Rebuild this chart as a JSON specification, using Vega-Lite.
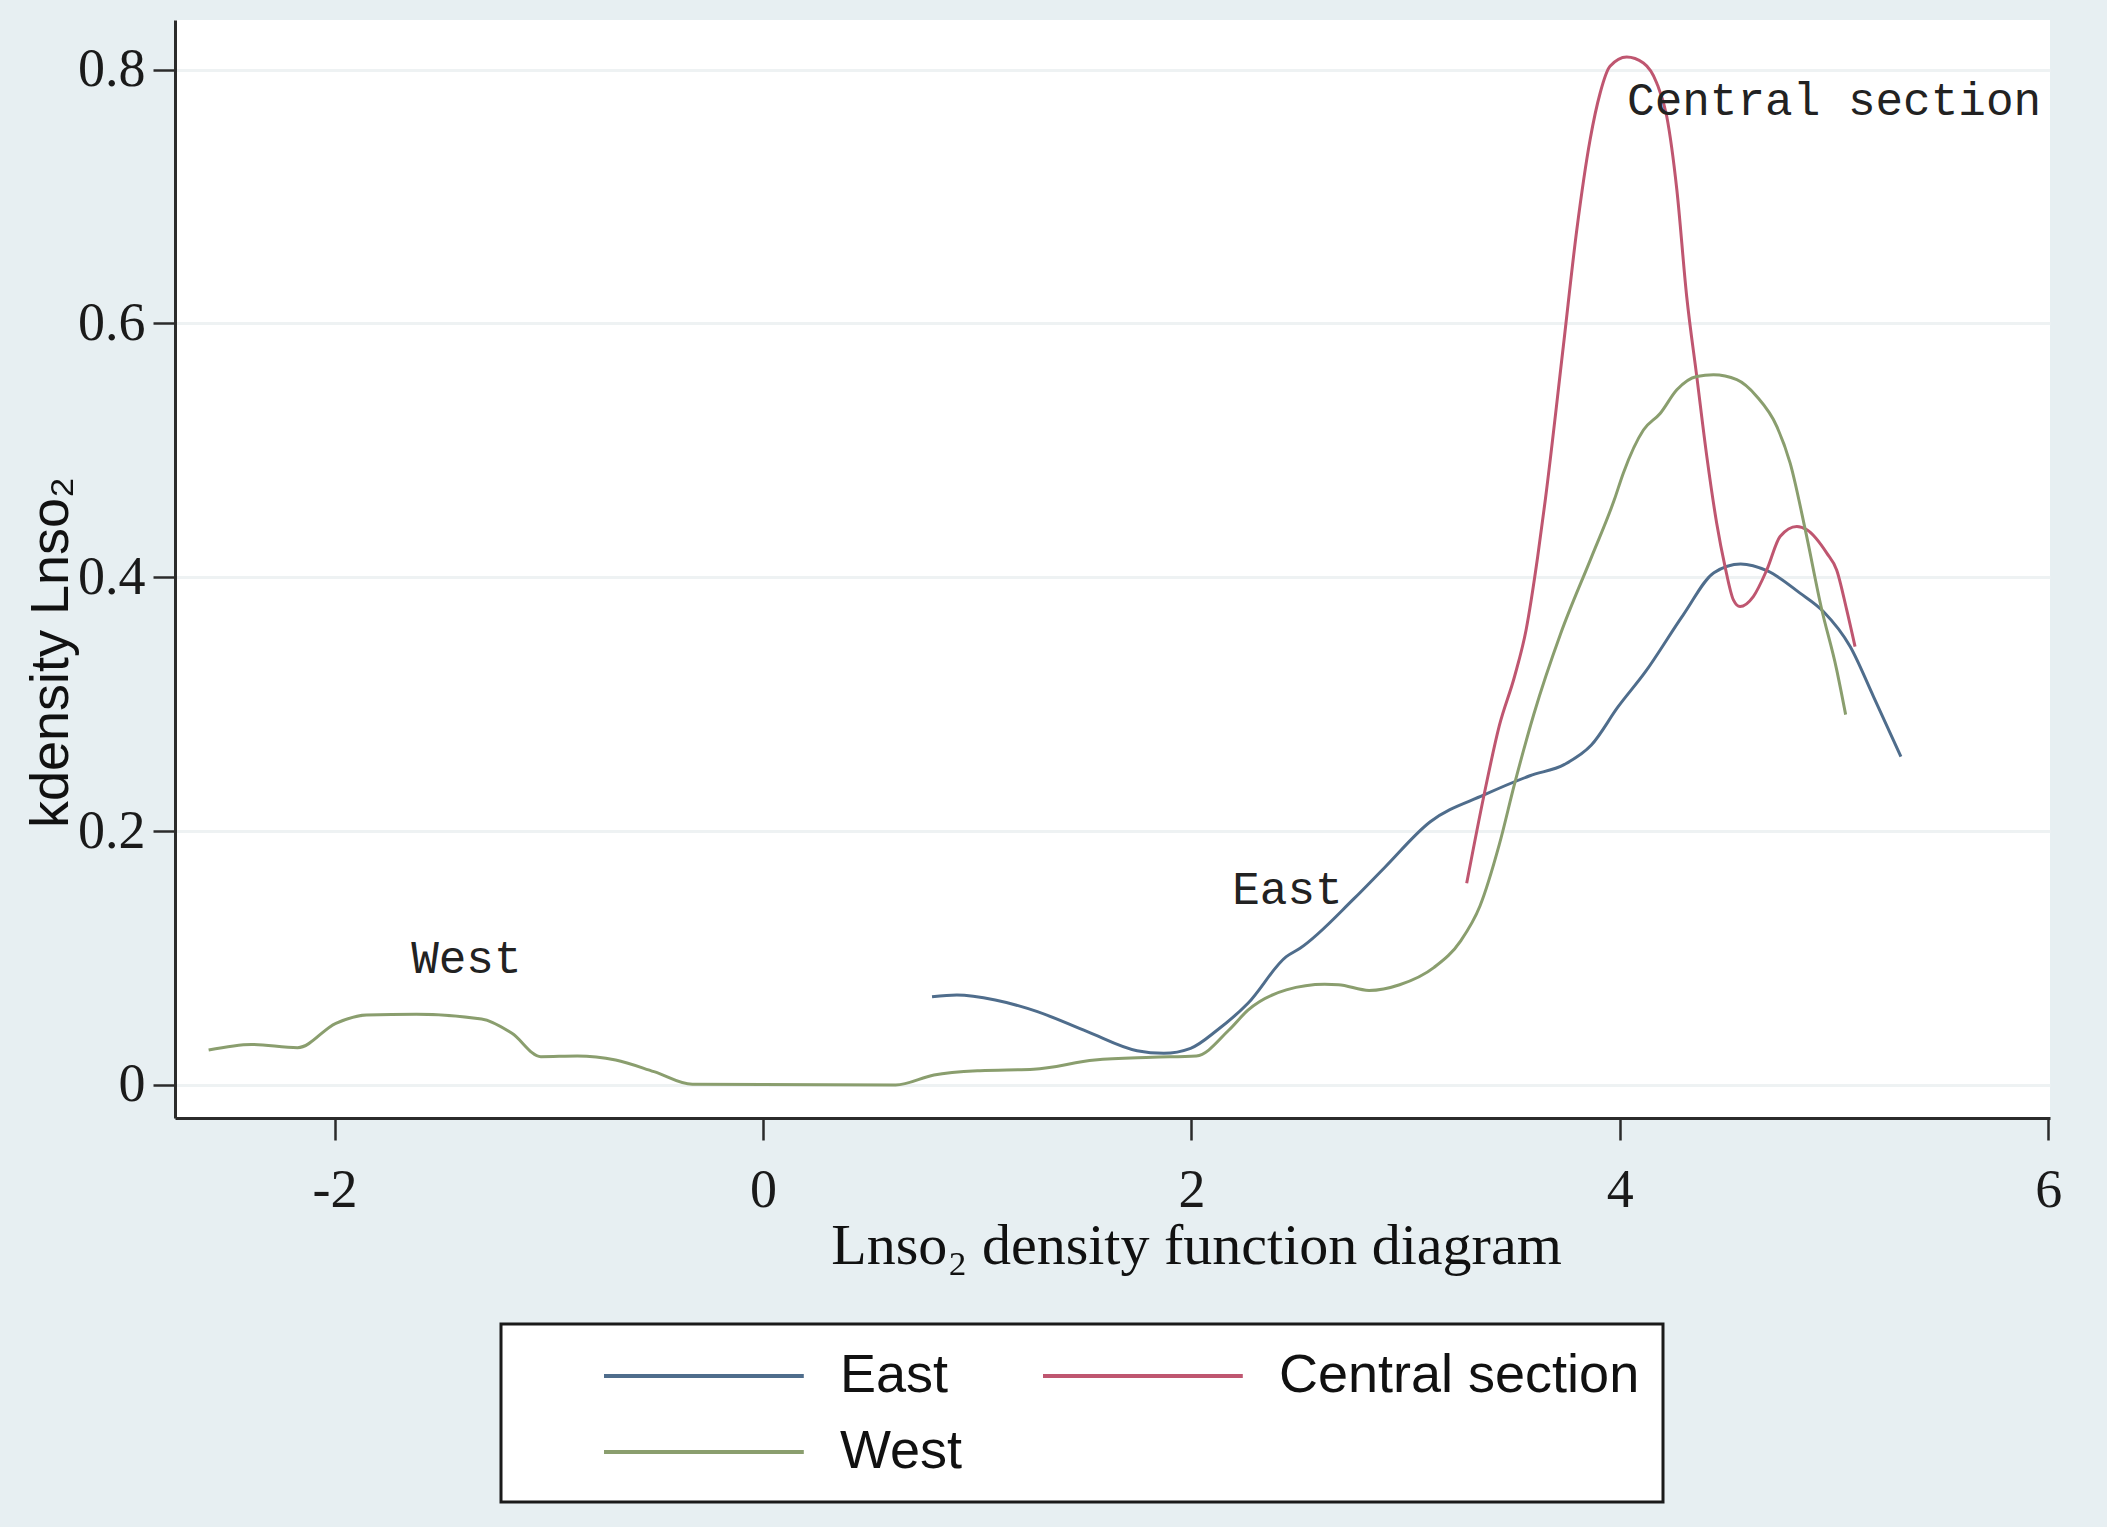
{
  "$schema": "https://vega.github.io/schema/vega-lite/v6.json",
  "autosize": {"type": "none"},
  "width": 1875,
  "height": 1098,
  "padding": {"left": 175, "top": 20, "right": 57, "bottom": 409},
  "background": "#e7eff2",
  "config": {
    "view": {"fill": "white", "stroke": null},
    "axis": {
      "domainColor": "#2b2b2b",
      "domainWidth": 3,
      "tickColor": "#2b2b2b",
      "tickWidth": 2.5,
      "tickSize": 22,
      "labelFont": "Liberation Serif",
      "labelFontSize": 54,
      "labelColor": "#1a1a1a",
      "titleColor": "#111111",
      "titleFontWeight": "normal"
    }
  },
  "datasets": {
    "curves": [
      {"region": "East", "x": 0.789, "y": 0.0696},
      {"region": "East", "x": 0.905, "y": 0.0709},
      {"region": "East", "x": 1.084, "y": 0.067},
      {"region": "East", "x": 1.281, "y": 0.0578},
      {"region": "East", "x": 1.514, "y": 0.042},
      {"region": "East", "x": 1.746, "y": 0.027},
      {"region": "East", "x": 1.871, "y": 0.025},
      {"region": "East", "x": 1.996, "y": 0.0289},
      {"region": "East", "x": 2.121, "y": 0.0433},
      {"region": "East", "x": 2.264, "y": 0.0644},
      {"region": "East", "x": 2.443, "y": 0.1011},
      {"region": "East", "x": 2.507, "y": 0.1077},
      {"region": "East", "x": 2.76, "y": 0.147},
      {"region": "East", "x": 2.9, "y": 0.171},
      {"region": "East", "x": 3.115, "y": 0.2074},
      {"region": "East", "x": 3.366, "y": 0.2285},
      {"region": "East", "x": 3.58, "y": 0.2436},
      {"region": "East", "x": 3.742, "y": 0.2526},
      {"region": "East", "x": 3.867, "y": 0.2678},
      {"region": "East", "x": 3.992, "y": 0.298},
      {"region": "East", "x": 4.117, "y": 0.325},
      {"region": "East", "x": 4.296, "y": 0.3704},
      {"region": "East", "x": 4.439, "y": 0.4036},
      {"region": "East", "x": 4.564, "y": 0.4105},
      {"region": "East", "x": 4.689, "y": 0.405},
      {"region": "East", "x": 4.841, "y": 0.3875},
      {"region": "East", "x": 4.95, "y": 0.373},
      {"region": "East", "x": 5.075, "y": 0.3454},
      {"region": "East", "x": 5.184, "y": 0.306},
      {"region": "East", "x": 5.312, "y": 0.2587},
      {"region": "Central section", "x": 3.285, "y": 0.159},
      {"region": "Central section", "x": 3.366, "y": 0.2285},
      {"region": "Central section", "x": 3.437, "y": 0.2829},
      {"region": "Central section", "x": 3.509, "y": 0.3222},
      {"region": "Central section", "x": 3.562, "y": 0.3583},
      {"region": "Central section", "x": 3.616, "y": 0.4157},
      {"region": "Central section", "x": 3.652, "y": 0.461},
      {"region": "Central section", "x": 3.736, "y": 0.5818},
      {"region": "Central section", "x": 3.799, "y": 0.6738},
      {"region": "Central section", "x": 3.861, "y": 0.7447},
      {"region": "Central section", "x": 3.908, "y": 0.7815},
      {"region": "Central section", "x": 3.954, "y": 0.8025},
      {"region": "Central section", "x": 4.032, "y": 0.8098},
      {"region": "Central section", "x": 4.11, "y": 0.8051},
      {"region": "Central section", "x": 4.172, "y": 0.7894},
      {"region": "Central section", "x": 4.219, "y": 0.763},
      {"region": "Central section", "x": 4.266, "y": 0.7053},
      {"region": "Central section", "x": 4.312, "y": 0.6212},
      {"region": "Central section", "x": 4.359, "y": 0.5582},
      {"region": "Central section", "x": 4.406, "y": 0.495},
      {"region": "Central section", "x": 4.452, "y": 0.4426},
      {"region": "Central section", "x": 4.491, "y": 0.4084},
      {"region": "Central section", "x": 4.53, "y": 0.3822},
      {"region": "Central section", "x": 4.561, "y": 0.3769},
      {"region": "Central section", "x": 4.623, "y": 0.3848},
      {"region": "Central section", "x": 4.686, "y": 0.4058},
      {"region": "Central section", "x": 4.748, "y": 0.4321},
      {"region": "Central section", "x": 4.826, "y": 0.44},
      {"region": "Central section", "x": 4.873, "y": 0.4374},
      {"region": "Central section", "x": 4.966, "y": 0.419},
      {"region": "Central section", "x": 5.012, "y": 0.4058},
      {"region": "Central section", "x": 5.059, "y": 0.3743},
      {"region": "Central section", "x": 5.098, "y": 0.3454},
      {"region": "West", "x": -2.588, "y": 0.0276},
      {"region": "West", "x": -2.388, "y": 0.032},
      {"region": "West", "x": -2.173, "y": 0.0294},
      {"region": "West", "x": -1.994, "y": 0.0486},
      {"region": "West", "x": -1.851, "y": 0.0552},
      {"region": "West", "x": -1.618, "y": 0.0557},
      {"region": "West", "x": -1.314, "y": 0.052},
      {"region": "West", "x": -1.172, "y": 0.0407},
      {"region": "West", "x": -1.037, "y": 0.0223},
      {"region": "West", "x": -0.867, "y": 0.0229},
      {"region": "West", "x": -0.688, "y": 0.0197},
      {"region": "West", "x": -0.509, "y": 0.0105},
      {"region": "West", "x": -0.33, "y": 0.0005},
      {"region": "West", "x": 0.619, "y": 0.0},
      {"region": "West", "x": 0.798, "y": 0.0079},
      {"region": "West", "x": 1.013, "y": 0.0113},
      {"region": "West", "x": 1.263, "y": 0.0124},
      {"region": "West", "x": 1.549, "y": 0.0197},
      {"region": "West", "x": 1.817, "y": 0.0218},
      {"region": "West", "x": 2.023, "y": 0.0229},
      {"region": "West", "x": 2.175, "y": 0.0433},
      {"region": "West", "x": 2.264, "y": 0.059},
      {"region": "West", "x": 2.443, "y": 0.0749},
      {"region": "West", "x": 2.622, "y": 0.0793},
      {"region": "West", "x": 2.686, "y": 0.079},
      {"region": "West", "x": 2.829, "y": 0.0745},
      {"region": "West", "x": 2.972, "y": 0.079},
      {"region": "West", "x": 3.133, "y": 0.0927},
      {"region": "West", "x": 3.258, "y": 0.1138},
      {"region": "West", "x": 3.347, "y": 0.141},
      {"region": "West", "x": 3.437, "y": 0.1893},
      {"region": "West", "x": 3.509, "y": 0.2376},
      {"region": "West", "x": 3.598, "y": 0.2919},
      {"region": "West", "x": 3.723, "y": 0.3553},
      {"region": "West", "x": 3.867, "y": 0.4157},
      {"region": "West", "x": 3.974, "y": 0.461},
      {"region": "West", "x": 4.016, "y": 0.482},
      {"region": "West", "x": 4.11, "y": 0.516},
      {"region": "West", "x": 4.188, "y": 0.529},
      {"region": "West", "x": 4.266, "y": 0.5477},
      {"region": "West", "x": 4.359, "y": 0.5582},
      {"region": "West", "x": 4.437, "y": 0.5595},
      {"region": "West", "x": 4.546, "y": 0.5556},
      {"region": "West", "x": 4.639, "y": 0.5424},
      {"region": "West", "x": 4.733, "y": 0.5187},
      {"region": "West", "x": 4.795, "y": 0.4899},
      {"region": "West", "x": 4.866, "y": 0.4371},
      {"region": "West", "x": 4.94, "y": 0.3764},
      {"region": "West", "x": 5.011, "y": 0.328},
      {"region": "West", "x": 5.054, "y": 0.2918}
    ],
    "labels": [
      {"label": "West", "x": -1.385, "y": 0.099},
      {"label": "East", "x": 2.448, "y": 0.154},
      {"label": "Central section", "x": 5.0, "y": 0.775}
    ]
  },
  "layer": [
    {
      "data": {"name": "curves"},
      "mark": {"type": "line", "strokeWidth": 3, "interpolate": "monotone"},
      "encoding": {
        "x": {
          "field": "x",
          "type": "quantitative",
          "scale": {"domain": [-2.745, 6.008], "nice": false, "zero": false},
          "axis": {
            "values": [-2, 0, 2, 4, 6],
            "labelExpr": "toString(datum.value)",
            "grid": false,
            "labelPadding": 23,
            "title": "Lnso₂ density function diagram",
            "titleFont": "Liberation Serif",
            "titleFontSize": 58,
            "titleX": 1021,
            "titleY": 145,
            "titleAlign": "center",
            "titleBaseline": "alphabetic"
          }
        },
        "y": {
          "field": "y",
          "type": "quantitative",
          "scale": {"domain": [-0.026, 0.839], "nice": false, "zero": false},
          "axis": {
            "values": [0, 0.2, 0.4, 0.6, 0.8],
            "labelExpr": "toString(datum.value)",
            "grid": true,
            "gridColor": "#eef2f3",
            "gridWidth": 3,
            "labelPadding": 8,
            "title": "kdensity Lnso₂",
            "titleFont": "Liberation Sans",
            "titleFontSize": 54,
            "titleAngle": -90,
            "titleX": -108,
            "titleY": 632,
            "titleAlign": "center",
            "titleBaseline": "alphabetic"
          }
        },
        "color": {
          "field": "region",
          "type": "nominal",
          "scale": {
            "domain": ["East", "Central section", "West"],
            "range": ["#4f6d8c", "#bf5670", "#8a9e6e"]
          },
          "legend": {
            "title": null,
            "orient": "none",
            "direction": "horizontal",
            "legendX": 326,
            "legendY": 1304,
            "columns": 2,
            "columnPadding": -9,
            "rowPadding": 20,
            "padding": 23,
            "symbolOffset": 78,
            "symbolType": "M-1,0H6.4",
            "symbolSize": 2916,
            "symbolStrokeWidth": 4,
            "labelFont": "Liberation Sans",
            "labelFontSize": 54,
            "labelColor": "#111111",
            "labelOffset": 180,
            "labelLimit": 0,
            "fillColor": "white",
            "strokeColor": "#1a1a1a",
            "cornerRadius": 0,
            "encode": {"legend": {"update": {"strokeWidth": {"value": 3}}}}
          }
        }
      }
    },
    {
      "data": {"name": "labels"},
      "mark": {
        "type": "text",
        "font": "Liberation Mono",
        "fontSize": 46,
        "color": "#222222",
        "align": "center",
        "baseline": "middle"
      },
      "encoding": {
        "x": {"field": "x", "type": "quantitative"},
        "y": {"field": "y", "type": "quantitative"},
        "text": {"field": "label"}
      }
    }
  ]
}
